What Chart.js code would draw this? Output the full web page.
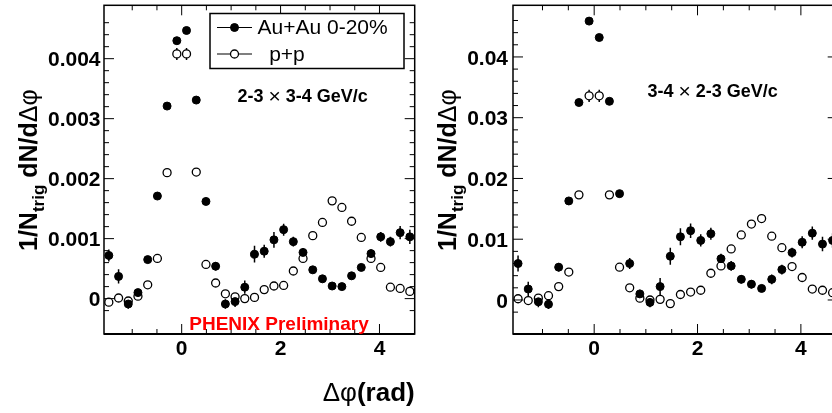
<!DOCTYPE html>
<html lang="en">
<head>
  <meta charset="UTF-8">
  <title>Au+Au vs p+p azimuthal correlations</title>
  <script src="https://cdn.jsdelivr.net/npm/chart.js"></script>
  <style>
    body {
      margin: 0;
      width: 832px;
      height: 413px;
      overflow: hidden;
      background: #fff;
      position: relative;
    }
    canvas { position: absolute; top: 0; }
    #leftPanel { left: 0; }
    #rightPanel { left: 418px; }
  </style>
</head>
<body>
  <canvas id="leftPanel" width="420" height="413"></canvas>
  <canvas id="rightPanel" width="425" height="413"></canvas>

  <script>
    // bin centres in delta-phi (rad)
    const dphi = [-1.473, -1.276, -1.080, -0.884, -0.687, -0.491, -0.295, -0.098,
                   0.098,  0.295,  0.491,  0.687,  0.884,  1.080,  1.276,  1.473,
                   1.669,  1.866,  2.062,  2.258,  2.454,  2.651,  2.847,  3.043,
                   3.240,  3.436,  3.632,  3.829,  4.025,  4.221,  4.418,  4.614];

    const seriesNames = ['Au+Au 0-20%', '  p+p'];

    // left panel: 2-3 x 3-4 GeV/c
    const auauLeft = [0.00072, 0.00037, -0.00009, 0.00010, 0.00065, 0.00171, 0.00321, 0.00430,
                      0.00447, 0.00331, 0.00162, 0.00054, -0.00009, -0.00005, 0.00019, 0.00074,
                      0.00079, 0.00098, 0.00115, 0.00095, 0.00077, 0.00048, 0.00033, 0.00021,
                      0.00020, 0.00038, 0.00052, 0.00075, 0.00103, 0.00095, 0.00110, 0.00103];
    const auauLeftErr = [0.00010, 0.00012, 0.00008, 0.00006, 0.00006, 0.00005, 0.00004, 0.00004,
                         0.00004, 0.00004, 0.00005, 0.00007, 0.00008, 0.00009, 0.00011, 0.00014,
                         0.00011, 0.00013, 0.00010, 0.00008, 0.00007, 0.00006, 0.00006, 0.00005,
                         0.00005, 0.00006, 0.00006, 0.00007, 0.00008, 0.00008, 0.00011, 0.00012];
    const ppLeft = [-0.00006, 0.00001, -0.00004, 0.00004, 0.00023, 0.00067, 0.00210, 0.00408,
                     0.00408, 0.00211, 0.00057, 0.00026, 0.00008, 0.00003, 0.00000, 0.00002,
                     0.00015, 0.00021, 0.00022, 0.00046, 0.00067, 0.00105, 0.00127, 0.00163,
                     0.00152, 0.00129, 0.00102, 0.00067, 0.00052, 0.00019, 0.00017, 0.00012];
    const ppLeftErr = [0.00003, 0.00003, 0.00003, 0.00003, 0.00003, 0.00003, 0.00005, 0.00010,
                       0.00010, 0.00005, 0.00003, 0.00003, 0.00003, 0.00003, 0.00003, 0.00003,
                       0.00003, 0.00003, 0.00003, 0.00003, 0.00003, 0.00003, 0.00003, 0.00003,
                       0.00003, 0.00003, 0.00003, 0.00003, 0.00003, 0.00003, 0.00003, 0.00003];

    // right panel: 3-4 x 2-3 GeV/c
    const auauRight = [0.0060, 0.0018, -0.0003, -0.0007, 0.0054, 0.0163, 0.0325, 0.0459,
                       0.0432, 0.0327, 0.0175, 0.0060, 0.0010, -0.0004, 0.0022, 0.0072,
                       0.0104, 0.0114, 0.0098, 0.0109, 0.0068, 0.0056, 0.0034, 0.0026,
                       0.0019, 0.0034, 0.0050, 0.0078, 0.0095, 0.0110, 0.0092, 0.0098];
    const auauRightErr = [0.0013, 0.0012, 0.0009, 0.0008, 0.0007, 0.0006, 0.0005, 0.0005,
                          0.0005, 0.0005, 0.0006, 0.0009, 0.0007, 0.0008, 0.0014, 0.0014,
                          0.0014, 0.0012, 0.0010, 0.0010, 0.0008, 0.0008, 0.0007, 0.0007,
                          0.0006, 0.0008, 0.0008, 0.0008, 0.0010, 0.0011, 0.0012, 0.0012];
    const ppRight = [0.0002, -0.0001, 0.0003, 0.0007, 0.0022, 0.0046, 0.0173, 0.0336,
                     0.0336, 0.0173, 0.0054, 0.0020, 0.0003, 0.0000, 0.0001, -0.0006,
                     0.0009, 0.0013, 0.0016, 0.0044, 0.0056, 0.0084, 0.0107, 0.0125,
                     0.0134, 0.0105, 0.0086, 0.0055, 0.0037, 0.0018, 0.0016, 0.0012];
    const ppRightErr = [0.0003, 0.0003, 0.0003, 0.0003, 0.0003, 0.0003, 0.0005, 0.0010,
                        0.0010, 0.0005, 0.0003, 0.0003, 0.0003, 0.0003, 0.0003, 0.0003,
                        0.0003, 0.0003, 0.0003, 0.0003, 0.0003, 0.0003, 0.0003, 0.0003,
                        0.0003, 0.0003, 0.0003, 0.0003, 0.0003, 0.0003, 0.0003, 0.0003];

    // tick labels
    const xMajor = [0, 2, 4];
    const xLabels = ['0', '2', '4'];
    const yMajorLeft = [0, 0.001, 0.002, 0.003, 0.004];
    const yLabelsLeft = ['0', '0.001', '0.002', '0.003', '0.004'];
    const yMajorRight = [0, 0.01, 0.02, 0.03, 0.04];
    const yLabelsRight = ['0', '0.01', '0.02', '0.03', '0.04'];

    const FONT = "'Liberation Sans', Arial, Helvetica, sans-serif";
    const X_MIN = -Math.PI / 2;
    const X_MAX = 3 * Math.PI / 2;

    function points(ys) {
      return dphi.map((x, i) => ({ x: x, y: ys[i] }));
    }

    function labelFor(v, majors, labels) {
      const i = majors.findIndex(m => Math.abs(m - v) < 1e-9);
      return i < 0 ? '' : labels[i];
    }

    // draw text made of pieces with different fonts, left to right
    function drawPieces(ctx, x, y, pieces) {
      let cx = x;
      pieces.forEach(p => {
        ctx.font = p.font;
        ctx.fillText(p.text, cx, y + (p.dy || 0));
        cx += ctx.measureText(p.text).width;
      });
    }

    function line(ctx, x1, y1, x2, y2) {
      ctx.beginPath();
      ctx.moveTo(x1, y1);
      ctx.lineTo(x2, y2);
      ctx.stroke();
    }

    // keep the plot frame exactly where the axis widths put it
    function noPadding(s) {
      s.paddingTop = 0;
      s.paddingBottom = 0;
      s.paddingLeft = 0;
      s.paddingRight = 0;
    }

    function panelPlugin(cfg) {
      return {
        id: 'panel',
        // vertical error bars, under the markers
        beforeDatasetsDraw(chart) {
          const { ctx, chartArea: a, scales: { y } } = chart;
          ctx.save();
          ctx.beginPath();
          ctx.rect(a.left, a.top, a.right - a.left, a.bottom - a.top);
          ctx.clip();
          ctx.strokeStyle = '#000';
          ctx.lineWidth = 1.5;
          chart.data.datasets.forEach((ds, di) => {
            chart.getDatasetMeta(di).data.forEach((pt, i) => {
              const v = ds.data[i].y, e = ds.errors[i];
              line(ctx, pt.x, y.getPixelForValue(v - e), pt.x, y.getPixelForValue(v + e));
            });
          });
          ctx.restore();
        },
        afterDraw(chart) {
          const { ctx, chartArea: a, scales: { x, y } } = chart;
          ctx.save();
          ctx.strokeStyle = '#000';
          ctx.fillStyle = '#000';

          // frame
          ctx.lineWidth = 1.5;
          ctx.strokeRect(a.left, a.top, a.right - a.left, a.bottom - a.top);
          ctx.lineWidth = 2;
          line(ctx, a.left, a.bottom, a.right, a.bottom);

          // inward ticks on all four sides
          ctx.lineWidth = 1;
          x.ticks.forEach(t => {
            const v = t.value;
            if (Math.abs(v / 0.5 - Math.round(v / 0.5)) > 1e-6) return;
            const px = x.getPixelForValue(v);
            const len = labelFor(v, xMajor, xLabels) ? 10 : 5;
            line(ctx, px, a.bottom, px, a.bottom - len);
            line(ctx, px, a.top, px, a.top + len);
          });
          y.ticks.forEach(t => {
            const v = t.value;
            if (Math.abs(v / cfg.yStep - Math.round(v / cfg.yStep)) > 1e-6) return;
            const py = y.getPixelForValue(v);
            const len = labelFor(v, cfg.yMajor, cfg.yLabels) ? 10 : 5;
            line(ctx, a.left, py, a.left + len, py);
            line(ctx, a.right, py, a.right - len, py);
          });

          // y axis title, rotated
          ctx.save();
          ctx.translate(cfg.yTitleX, cfg.yTitleY);
          ctx.rotate(-Math.PI / 2);
          ctx.textBaseline = 'alphabetic';
          ctx.textAlign = 'left';
          drawPieces(ctx, 0, 0, [
            { text: '1/N', font: 'bold 25px ' + FONT },
            { text: 'trig', font: 'bold 17px ' + FONT, dy: 7 },
            { text: ' dN/d', font: 'bold 25px ' + FONT },
            { text: 'Δφ', font: '25px ' + FONT }
          ]);
          ctx.restore();

          // x axis title
          if (cfg.xTitle) {
            ctx.textBaseline = 'alphabetic';
            ctx.textAlign = 'left';
            ctx.font = 'bold 26px ' + FONT;
            const wr = ctx.measureText('(rad)').width;
            ctx.font = '26px ' + FONT;
            const wd = ctx.measureText('Δφ').width;
            drawPieces(ctx, a.right - wr - wd, 401, [
              { text: 'Δφ', font: '26px ' + FONT },
              { text: '(rad)', font: 'bold 26px ' + FONT }
            ]);
          }

          // kinematic range note
          ctx.textBaseline = 'middle';
          ctx.textAlign = 'left';
          drawPieces(ctx, cfg.noteX, cfg.noteY, [
            { text: cfg.note[0] + ' ', font: 'bold 18px ' + FONT },
            { text: '×', font: '21px ' + FONT },
            { text: ' ' + cfg.note[1], font: 'bold 18px ' + FONT }
          ]);

          // legend box
          if (cfg.legend) {
            const b = cfg.legend;
            ctx.lineWidth = 1.5;
            ctx.fillStyle = '#fff';
            ctx.fillRect(b.x, b.y, b.w, b.h);
            ctx.strokeRect(b.x, b.y, b.w, b.h);
            chart.data.datasets.forEach((ds, i) => {
              const cy = b.y + b.rows[i];
              ctx.lineWidth = 1.2;
              line(ctx, b.x + 7, cy, b.x + 42, cy);
              ctx.beginPath();
              ctx.arc(b.x + 24.5, cy, ds.pointRadius, 0, Math.PI * 2);
              ctx.fillStyle = ds.backgroundColor;
              ctx.fill();
              ctx.lineWidth = ds.borderWidth;
              ctx.stroke();
              ctx.fillStyle = '#000';
              ctx.font = '21px ' + FONT;
              ctx.fillText(ds.label, b.x + 47.5, cy + 1);
            });
          }

          if (cfg.preliminary) {
            ctx.fillStyle = '#ff0000';
            ctx.font = 'bold 19px ' + FONT;
            ctx.textAlign = 'center';
            ctx.textBaseline = 'middle';
            ctx.fillText('PHENIX Preliminary', 279, 325);
          }
          ctx.restore();
        }
      };
    }

    function makePanel(id, cfg) {
      return new Chart(document.getElementById(id), {
        type: 'scatter',
        data: {
          datasets: [{
            label: seriesNames[0],
            data: points(cfg.auau),
            errors: cfg.auauErr,
            pointRadius: 4,
            pointHoverRadius: 4,
            backgroundColor: '#000',
            borderColor: '#000',
            borderWidth: 1
          }, {
            label: seriesNames[1],
            data: points(cfg.pp),
            errors: cfg.ppErr,
            pointRadius: 4,
            pointHoverRadius: 4,
            backgroundColor: '#fff',
            borderColor: '#000',
            borderWidth: 1.3
          }]
        },
        options: {
          responsive: false,
          animation: false,
          events: [],
          layout: { padding: { top: 4, right: cfg.padRight, left: 0, bottom: 0 } },
          plugins: { legend: { display: false }, tooltip: { enabled: false } },
          scales: {
            x: {
              type: 'linear',
              min: X_MIN,
              max: X_MAX,
              afterFit: s => { s.height = 79; noPadding(s); },
              grid: { display: false, drawTicks: false },
              border: { display: false },
              ticks: {
                stepSize: 0.5,
                autoSkip: false,
                maxRotation: 0,
                padding: 3,
                color: '#000',
                font: { family: FONT, size: 21, weight: 'bold' },
                callback: v => labelFor(v, xMajor, xLabels)
              }
            },
            y: {
              type: 'linear',
              min: cfg.yMin,
              max: cfg.yMax,
              afterFit: s => { s.width = cfg.axisLeft; noPadding(s); },
              grid: { display: false, drawTicks: false },
              border: { display: false },
              ticks: {
                stepSize: cfg.yStep,
                autoSkip: false,
                padding: cfg.labelPad,
                labelOffset: 2,
                color: '#000',
                font: { family: FONT, size: 21, weight: 'bold' },
                callback: v => labelFor(v, cfg.yMajor, cfg.yLabels)
              }
            }
          }
        },
        plugins: [panelPlugin(cfg)]
      });
    }

    makePanel('leftPanel', {
      auau: auauLeft, auauErr: auauLeftErr, pp: ppLeft, ppErr: ppLeftErr,
      yMin: -0.00059, yMax: 0.00489, yStep: 0.0002,
      yMajor: yMajorLeft, yLabels: yLabelsLeft,
      axisLeft: 104, padRight: 2.5, labelPad: 3.5,
      yTitleX: 37, yTitleY: 251,
      xTitle: true,
      note: ['2-3', '3-4 GeV/c'], noteX: 237.5, noteY: 97,
      legend: { x: 210, y: 13.5, w: 194, h: 55, rows: [14, 40.5] },
      preliminary: true
    });

    makePanel('rightPanel', {
      auau: auauRight, auauErr: auauRightErr, pp: ppRight, ppErr: ppRightErr,
      yMin: -0.0056, yMax: 0.0485, yStep: 0.002,
      yMajor: yMajorRight, yLabels: yLabelsRight,
      axisLeft: 95, padRight: 2.5, labelPad: 5,
      yTitleX: 37.5, yTitleY: 251,
      xTitle: false,
      note: ['3-4', '2-3 GeV/c'], noteX: 229.5, noteY: 92,
      legend: null,
      preliminary: false
    });
  </script>
</body>
</html>
